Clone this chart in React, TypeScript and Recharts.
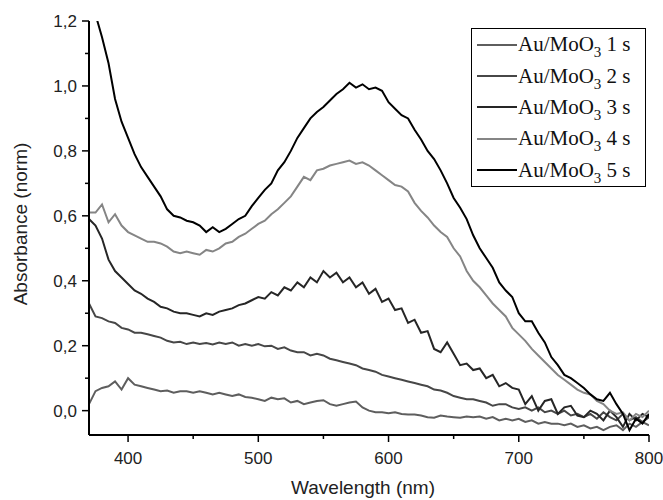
import React from 'react';
import { LineChart, Line, XAxis, YAxis, Legend } from 'recharts';

const wavelengths = [
  370, 375, 380, 385, 390, 395, 400, 405, 410, 415,
  420, 425, 430, 435, 440, 445, 450, 455, 460, 465,
  470, 475, 480, 485, 490, 495, 500, 505, 510, 515,
  520, 525, 530, 535, 540, 545, 550, 555, 560, 565,
  570, 575, 580, 585, 590, 595, 600, 605, 610, 615,
  620, 625, 630, 635, 640, 645, 650, 655, 660, 665,
  670, 675, 680, 685, 690, 695, 700, 705, 710, 715,
  720, 725, 730, 735, 740, 745, 750, 755, 760, 765,
  770, 775, 780, 785, 790, 795, 800,
];

const s1 = [
  0.02, 0.06, 0.07, 0.075, 0.09, 0.065, 0.1, 0.08, 0.075, 0.07,
  0.065, 0.06, 0.062, 0.055, 0.06, 0.06, 0.055, 0.06, 0.055, 0.05,
  0.055, 0.05, 0.045, 0.05, 0.042, 0.04, 0.035, 0.03, 0.04, 0.035,
  0.038, 0.025, 0.03, 0.02, 0.025, 0.03, 0.032, 0.02, 0.015, 0.02,
  0.025, 0.028, 0.01, 0.0, -0.005, -0.005, -0.008, -0.005, -0.01, -0.012,
  -0.012, -0.015, -0.02, -0.022, -0.015, -0.018, -0.02, -0.022, -0.018, -0.02,
  -0.018, -0.025, -0.02, -0.03, -0.025, -0.03, -0.025, -0.035, -0.03, -0.04,
  -0.035, -0.04, -0.04, -0.045, -0.04, -0.05, -0.045, -0.055, -0.05, -0.06,
  -0.05, -0.045, -0.06, -0.04, -0.05, -0.035, -0.045,
];

const s2 = [
  0.33, 0.29, 0.285, 0.275, 0.27, 0.255, 0.25, 0.24, 0.24, 0.235,
  0.23, 0.225, 0.215, 0.21, 0.212, 0.205, 0.21, 0.205, 0.208, 0.204,
  0.21, 0.205, 0.21, 0.2, 0.205, 0.2, 0.205, 0.198, 0.2, 0.19,
  0.195, 0.185, 0.18, 0.18, 0.17, 0.175, 0.17, 0.16, 0.155, 0.15,
  0.145, 0.14, 0.13, 0.125, 0.12, 0.11, 0.105, 0.1, 0.095, 0.09,
  0.085, 0.08, 0.075, 0.065, 0.062, 0.055, 0.045, 0.04, 0.035, 0.035,
  0.03, 0.025, 0.015, 0.02, 0.02, 0.01, 0.005, 0.01, 0.0, 0.01,
  -0.005, 0.0, -0.01, 0.0, -0.015, -0.01, -0.02, -0.01, -0.025, -0.005,
  -0.02, -0.03, -0.01, -0.03, -0.02, -0.035, -0.02,
];

const s3 = [
  0.59, 0.57, 0.53, 0.465, 0.43, 0.41, 0.39, 0.37, 0.36, 0.345,
  0.335, 0.32, 0.315, 0.305, 0.3, 0.3, 0.295, 0.29, 0.3, 0.295,
  0.305, 0.31, 0.315, 0.325, 0.33, 0.34, 0.35, 0.345, 0.365, 0.355,
  0.38, 0.37, 0.395, 0.38, 0.41, 0.395, 0.43, 0.41, 0.425, 0.395,
  0.41, 0.38, 0.395, 0.36, 0.375, 0.335, 0.345, 0.31, 0.315, 0.27,
  0.28, 0.24, 0.245, 0.19, 0.18, 0.21, 0.175, 0.14, 0.145, 0.125,
  0.13, 0.1, 0.11, 0.075, 0.085, 0.07, 0.065, 0.02, 0.045, 0.0,
  0.03, 0.035, -0.01, 0.01, 0.015, -0.015, -0.02, 0.0, -0.01, -0.03,
  0.0, -0.02, -0.05, -0.01, -0.03, -0.01, -0.02,
];

const s4 = [
  0.61, 0.61, 0.635, 0.58, 0.605, 0.57, 0.55, 0.54, 0.53, 0.52,
  0.52, 0.515, 0.505, 0.49, 0.485, 0.49, 0.485, 0.48, 0.495, 0.49,
  0.5, 0.515, 0.52, 0.535, 0.545, 0.56, 0.575, 0.585, 0.605, 0.62,
  0.64, 0.66, 0.69, 0.72, 0.71, 0.74, 0.745, 0.755, 0.76, 0.765,
  0.77, 0.76, 0.765, 0.755, 0.74, 0.725, 0.71, 0.695, 0.69, 0.675,
  0.64, 0.615, 0.595, 0.57, 0.55, 0.535, 0.5, 0.475, 0.43, 0.4,
  0.38, 0.355, 0.33, 0.31, 0.29, 0.255, 0.235, 0.215, 0.19, 0.17,
  0.15, 0.13, 0.11, 0.095, 0.08, 0.065, 0.055, 0.05, 0.03, 0.02,
  0.0, -0.01, -0.005, -0.03, -0.01, -0.02, 0.0,
];

const s5 = [
  1.27, 1.22, 1.15, 1.07, 0.96, 0.89, 0.84, 0.79, 0.75, 0.72,
  0.69, 0.66, 0.62, 0.6, 0.595, 0.585, 0.58, 0.57, 0.55, 0.565,
  0.55, 0.56, 0.575, 0.59, 0.6, 0.63, 0.655, 0.68, 0.7, 0.74,
  0.765, 0.8, 0.84, 0.87, 0.9, 0.92, 0.935, 0.955, 0.975, 0.99,
  1.01, 0.995, 1.005, 0.99, 0.995, 0.985, 0.95, 0.93, 0.91, 0.9,
  0.865, 0.835, 0.8, 0.775, 0.74, 0.7, 0.655, 0.625, 0.59, 0.54,
  0.5, 0.47, 0.44, 0.395, 0.37, 0.35, 0.3, 0.275, 0.275, 0.24,
  0.21, 0.165, 0.14, 0.11, 0.1, 0.085, 0.07, 0.05, 0.035, 0.03,
  0.055, 0.02, -0.01, -0.06, -0.025, -0.04, -0.01,
];

const seriesTimes = ['1 s', '2 s', '3 s', '4 s', '5 s'];
const seriesKeys = ['s1', 's2', 's3', 's4', 's5'];
const seriesColors = ['#5e5e5e', '#474747', '#262626', '#858585', '#000000'];

const yTicks = [0, 0.1, 0.2, 0.3, 0.4, 0.5, 0.6, 0.7, 0.8, 0.9, 1.0, 1.1, 1.2];
const xTicks = [400, 450, 500, 550, 600, 650, 700, 750, 800];
const xDomain = [370, 800];
const yDomain = [-0.075, 1.2];

const allSeries = [s1, s2, s3, s4, s5];
const data = wavelengths.map((w, i) => {
  const row: any = { w };
  seriesKeys.forEach((k, j) => {
    row[k] = allSeries[j][i];
  });
  return row;
});

const SANS = 'Liberation Sans, Arial, sans-serif';
const SERIF = 'Liberation Serif, Times New Roman, serif';

const YTick = (props: any) => {
  const { x, y, payload } = props;
  const v = payload.value;
  const major = Math.round(v * 10) % 2 === 0;
  const len = major ? 7 : 4;
  return (
    <g>
      <line x1={x - len} y1={y} x2={x} y2={y} stroke="#000" strokeWidth={1.5} />
      {major && (
        <text x={x - 12} y={y} dy="0.36em" textAnchor="end" fontFamily={SANS} fontSize={17} fill="#222">
          {v.toFixed(1).replace('.', ',')}
        </text>
      )}
    </g>
  );
};

const XTick = (props: any) => {
  const { x, y, payload } = props;
  const v = payload.value;
  const major = v % 100 === 0;
  const len = major ? 7 : 4;
  return (
    <g>
      <line x1={x} y1={y} x2={x} y2={y + len} stroke="#000" strokeWidth={1.5} />
      {major && (
        <text x={x} y={y + 29} textAnchor="middle" fontFamily={SANS} fontSize={17} fill="#222">
          {String(v)}
        </text>
      )}
    </g>
  );
};

const LegendBox = (props: any) => {
  const { payload } = props;
  return (
    <div
      style={{
        border: '1px solid #000',
        background: '#fff',
        width: 175,
        boxSizing: 'border-box',
        padding: '0 0 0 5px',
        fontFamily: SERIF,
        fontSize: 21,
        color: '#111',
      }}
    >
      {(payload || []).map((entry: any, i: number) => (
        <div key={i} style={{ display: 'flex', alignItems: 'center', height: 31.4, whiteSpace: 'nowrap' }}>
          <svg width={40} height={6} style={{ display: 'block', flex: 'none' }}>
            <line x1={0} y1={3} x2={40} y2={3} stroke={entry.color} strokeWidth={2} />
          </svg>
          <span style={{ marginLeft: 1, lineHeight: '21px' }}>
            Au/MoO<sub style={{ fontSize: 15, verticalAlign: '-6px', lineHeight: 0 }}>3</sub> {seriesTimes[i]}
          </span>
        </div>
      ))}
    </div>
  );
};

export default function App() {
  return (
    <div style={{ position: 'absolute', left: 0, top: 0, width: 663, height: 500, background: '#fff' }}>
      <LineChart width={663} height={500} data={data} margin={{ top: 21, right: 14, bottom: 0, left: 0 }}>
        <XAxis
          dataKey="w"
          type="number"
          domain={xDomain}
          ticks={xTicks}
          interval={0}
          allowDataOverflow
          height={65}
          tickSize={0}
          tickMargin={0}
          tickLine={false}
          axisLine={{ stroke: '#000', strokeWidth: 2 }}
          tick={<XTick />}
          label={{
            content: (p: any) => {
              const vb = p.viewBox;
              return (
                <text x={vb.x + vb.width / 2 - 6} y={vb.y + 59} textAnchor="middle" fontFamily={SANS} fontSize={19} fill="#222">
                  Wavelength (nm)
                </text>
              );
            },
          }}
        />
        <XAxis
          xAxisId="top"
          dataKey="w"
          type="number"
          orientation="top"
          domain={xDomain}
          allowDataOverflow
          height={0}
          tick={false}
          tickLine={false}
          axisLine={{ stroke: '#000', strokeWidth: 2 }}
        />
        <YAxis
          type="number"
          domain={yDomain}
          ticks={yTicks}
          interval={0}
          allowDataOverflow
          width={89}
          tickSize={0}
          tickMargin={0}
          tickLine={false}
          axisLine={{ stroke: '#000', strokeWidth: 2 }}
          tick={<YTick />}
          label={{
            content: (p: any) => {
              const vb = p.viewBox;
              const cx = vb.x + 20;
              const cy = vb.y + vb.height / 2 - 4;
              return (
                <text x={cx} y={cy} textAnchor="middle" dominantBaseline="central" transform={`rotate(-90 ${cx} ${cy})`} fontFamily={SANS} fontSize={19} fill="#222">
                  Absorbance (norm)
                </text>
              );
            },
          }}
        />
        <YAxis
          yAxisId="right"
          orientation="right"
          type="number"
          domain={yDomain}
          allowDataOverflow
          width={0}
          tick={false}
          tickLine={false}
          axisLine={{ stroke: '#000', strokeWidth: 2 }}
        />
        <Legend
          layout="horizontal"
          verticalAlign="middle"
          align="center"
          content={<LegendBox />}
          wrapperStyle={{ left: 471, top: 28, width: 175, height: 'auto' }}
        />
        {seriesKeys.map((k, i) => (
          <Line
            key={k}
            dataKey={k}
            name={`Au/MoO3 ${seriesTimes[i]}`}
            stroke={seriesColors[i]}
            strokeWidth={2}
            dot={false}
            activeDot={false}
            isAnimationActive={false}
            type="linear"
          />
        ))}
      </LineChart>
    </div>
  );
}
